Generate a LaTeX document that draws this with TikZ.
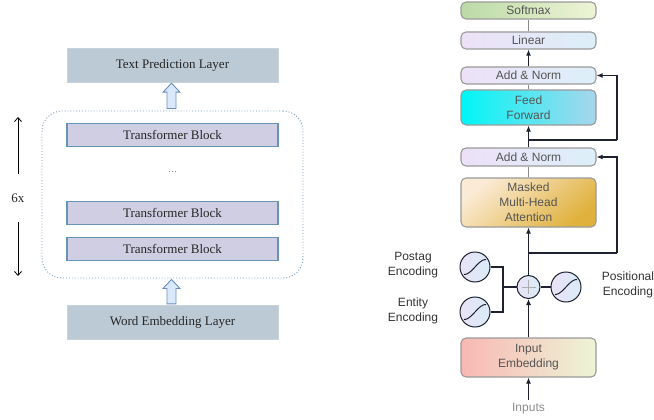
\documentclass[tikz,border=0pt]{standalone}
\usepackage{fontspec}
\setmainfont{Liberation Serif}
\newfontfamily\arialf{Liberation Sans}
\usetikzlibrary{arrows.meta,calc}
\definecolor{lfill}{HTML}{BCCAD5}
\definecolor{lbord}{HTML}{C9D3DC}
\definecolor{tbfill}{HTML}{D0CEE3}
\definecolor{tbord}{HTML}{6A93B3}
\definecolor{contc}{HTML}{7395C0}
\definecolor{harrf}{HTML}{DAE8FC}
\definecolor{harrd}{HTML}{6C8EBF}
\definecolor{rbord}{HTML}{9A9A9A}
\definecolor{rtext}{HTML}{555555}
\definecolor{dline}{HTML}{1E2230}
\definecolor{gline}{HTML}{8A8A8A}
\definecolor{smA}{HTML}{BBDAA6}
\definecolor{smB}{HTML}{EEF4D6}
\definecolor{lnA}{HTML}{EDE1F7}
\definecolor{lnB}{HTML}{DCEFF9}
\definecolor{ffA}{HTML}{00F6F6}
\definecolor{ffB}{HTML}{A8D6EC}
\definecolor{mhA}{HTML}{FBEBD6}
\definecolor{mhB}{HTML}{E0B13C}
\definecolor{ieA}{HTML}{F8B8B4}
\definecolor{ieB}{HTML}{EDF4D6}
\definecolor{ciA}{HTML}{EAE2F6}
\definecolor{ciB}{HTML}{D9ECF8}
\tikzset{
  lbox/.style={draw=lbord, fill=lfill, minimum width=211pt, minimum height=34pt, inner sep=0pt, font=\fontsize{13}{15}\selectfont, text=black!85},
  tblock/.style={draw=tbord, line width=1.1pt, fill=tbfill, minimum width=211pt, minimum height=23pt, inner sep=0pt, font=\fontsize{13}{15}\selectfont, text=black!85},
  contbox/.style={draw=contc, dotted, line width=0.9pt, rounded corners=20pt, minimum width=261pt, minimum height=167pt, inner sep=0pt},
  hollow/.style={draw=harrd, fill=harrf, line width=0.9pt, line join=miter},
  rbox/.style={draw=rbord, line width=1.1pt, rounded corners=5pt, minimum width=135pt, inner sep=0pt, font=\arialf\fontsize{12}{15}\selectfont, text=rtext, align=center},
  sinec/.style={circle, draw=dline, line width=1pt, left color=ciA, right color=ciB, minimum size=30pt, inner sep=0pt},
  plusc/.style={circle, draw=dline, line width=1pt, left color=ciA, right color=ciB, minimum size=23pt, inner sep=0pt},
  dconn/.style={draw=dline, line width=1.1pt},
  darr/.style={draw=dline, line width=1.1pt, -{Latex[length=6pt,width=5pt]}},
  gconn/.style={draw=gline, line width=1.1pt},
  lbl/.style={font=\arialf\fontsize{12}{15}\selectfont, text=black!80, align=center},
  sixarr/.style={draw=black, line width=0.8pt, -{Straight Barb[length=4pt,width=7pt]}}
}
\newcommand{\hollowarrow}[2]{%
  \draw[hollow] let \p1=#1, \p2=#2 in
    (\x1-4.5pt,\y1) -- (\x1+4.5pt,\y1) -- (\x1+4.5pt,\y2-9pt) -- (\x1+8.5pt,\y2-9pt)
    -- (\x1,\y2) -- (\x1-8.5pt,\y2-9pt) -- (\x1-4.5pt,\y2-9pt) -- cycle;}
\newcommand{\sinewave}[1]{%
  \draw[dline, line width=1pt, shift={(#1.center)}] plot[domain=-1:1, samples=30, smooth] ({11*\x},{-7.5*sin(90*\x)});}
\begin{document}
\begin{tikzpicture}[x=1pt, y=-1pt]
\useasboundingbox (0,0) rectangle (654,420);
% ---------------- left panel ----------------
\node[contbox] (cont) at (172.5,194.5) {};
\node[lbox] (tp) at (172.5,65) {Text Prediction Layer};
\node[tblock] (tb1) at (172.5,135) {Transformer Block};
\node[font=\fontsize{9}{10}\selectfont, text=black!60] (dots) at (172.5,172) {\ldots};
\node[tblock] (tb2) at (172.5,213) {Transformer Block};
\node[tblock] (tb3) at (172.5,249) {Transformer Block};
\node[lbox] (we) at (172.5,322) {Word Embedding Layer};
\hollowarrow{([xshift=-1pt,yshift=2pt]cont.north)}{([xshift=-1pt,yshift=-1pt]tp.south)}
\hollowarrow{([xshift=-1pt,yshift=1pt]we.north)}{([xshift=-1pt,yshift=-1pt]cont.south)}
\node[font=\fontsize{13}{15}\selectfont, text=black!85] (six) at (18,198) {6x};
\coordinate (sixtopS) at (18,174);
\coordinate (sixtopE) at (18,117);
\coordinate (sixbotS) at (18,222);
\coordinate (sixbotE) at (18,276);
\draw[sixarr] (sixtopS) -- (sixtopE);
\draw[sixarr] (sixbotS) -- (sixbotE);
% ---------------- right panel ----------------
\node[rbox, minimum height=17pt, left color=smA, right color=smB] (sm) at (528.5,10.5) {Softmax};
\node[rbox, minimum height=17pt, left color=lnA, right color=lnB] (lin) at (528.5,40.5) {Linear};
\node[rbox, minimum height=17pt, left color=lnA, right color=lnB] (an1) at (528.5,75.5) {Add \& Norm};
\node[rbox, minimum height=35pt, left color=ffA, right color=ffB] (ff) at (528.5,107.5) {Feed\\Forward};
\node[rbox, minimum height=18pt, left color=lnA, right color=lnB] (an2) at (528.5,157) {Add \& Norm};
\node[rbox, minimum height=49pt, top color=mhA, bottom color=mhB, shading angle=40] (mha) at (528.5,202.5) {Masked\\Multi-Head\\Attention};
\node[rbox, minimum height=39pt, left color=ieA, right color=ieB] (ie) at (528.5,357.5) {Input\\Embedding};
\node[font=\arialf\fontsize{12}{15}\selectfont, text=black!45] (inp) at (528.5,409) {Inputs};
\node[plusc] (plus) at (528.5,287) {};
\draw[gline!70, line width=0.9pt] ($(plus.center)+(-7,0)$) -- ($(plus.center)+(7,0)$);
\draw[gline!70, line width=0.9pt] ($(plus.center)+(0,-7)$) -- ($(plus.center)+(0,7)$);
\node[sinec] (post) at (475,267) {};
\node[sinec] (ent) at (475,312) {};
\node[sinec] (pos) at (566,287) {};
\sinewave{post}
\sinewave{ent}
\sinewave{pos}
\node[lbl] (postl) at (413,265.5) {Postag\\Encoding};
\node[lbl] (entl) at (413,310.5) {Entity\\Encoding};
\node[lbl] (posl) at (628,284.5) {Positional\\Encoding};
\coordinate (brx) at (503,287);
\coordinate (j1) at (528.5,253);
\coordinate (r1) at (617,253);
\coordinate (j2) at (528.5,140);
\coordinate (r2) at (617,140);
% connectors
\draw[darr] (inp.north) -- (ie.south);
\draw[darr] (ie.north) -- (plus.south);
\draw[darr] (plus.north) -- (mha.south);
\draw[dconn] (post.east) -| (brx);
\draw[dconn] (ent.east) -| (brx);
\draw[dconn] (brx) -- (plus.west);
\draw[dconn] (plus.east) -- (pos.west);
\draw[dconn] (j1) -- (r1);
\draw[darr] (r1) |- (an2.east);
\draw[gconn] (mha.north) -- (an2.south);
\draw[darr] (an2.north) -- (ff.south);
\draw[dconn] (j2) -- (r2);
\draw[darr] (r2) |- (an1.east);
\draw[gconn] (ff.north) -- (an1.south);
\draw[darr] (an1.north) -- (lin.south);
\draw[gconn] (lin.north) -- (sm.south);
\end{tikzpicture}
\end{document}
